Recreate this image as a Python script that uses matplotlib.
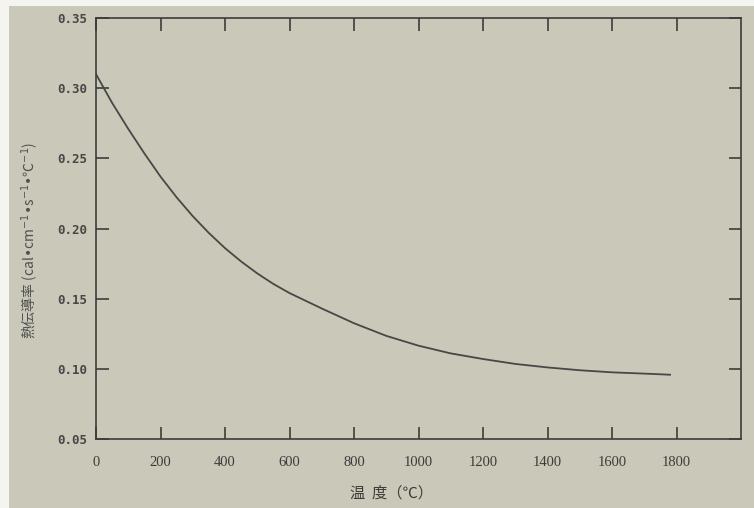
import numpy as np
import matplotlib
matplotlib.use("Agg")
import matplotlib.pyplot as plt
from matplotlib.patches import Rectangle

# 熱伝導率 vs 温度
temp = [0, 50, 100, 150, 200, 250, 300, 350, 400, 450, 500, 550, 600,
        700, 800, 900, 1000, 1100, 1200, 1300, 1400, 1500, 1600, 1700, 1780]
cond = [0.310, 0.2895, 0.271, 0.2535, 0.237, 0.2222, 0.2088, 0.1968, 0.186,
        0.1765, 0.168, 0.1605, 0.154, 0.143, 0.1325, 0.1235, 0.1165, 0.111,
        0.107, 0.1035, 0.101, 0.099, 0.0975, 0.0966, 0.0958]

xticks = [0, 200, 400, 600, 800, 1000, 1200, 1400, 1600, 1800]
yticks = [0.05, 0.10, 0.15, 0.20, 0.25, 0.30, 0.35]

paper = "#c9c8b9"
ink = "#3c3c3a"

fig = plt.figure(figsize=(7.54, 5.08), dpi=100)
fig.patch.set_facecolor("#f4f4f0")
# scanned page area (thin white margin at top/left)
fig.patches.append(Rectangle((9 / 754, 0), 1, 1 - 6 / 508, transform=fig.transFigure,
                             facecolor=paper, edgecolor="none", zorder=-5))

ax = fig.add_axes([96 / 754, 1 - 439 / 508, (741 - 96) / 754, (439 - 18) / 508])
ax.set_facecolor("none")
ax.set_zorder(2)

ax.plot(temp, cond, color="#474745", lw=1.3)

ax.set_xlim(0, 2000)
ax.set_ylim(0.05, 0.35)
ax.set_xticks(xticks)
ax.set_yticks(yticks)
ax.set_xticklabels([str(t) for t in xticks],
                   family="Liberation Serif", fontsize=10.5, color=ink)
ax.set_yticklabels(["%.2f" % v for v in yticks],
                   family="DejaVu Sans Mono", fontsize=9, fontweight="bold", color="#474745")

ax.tick_params(axis="both", direction="in", length=9, width=1.2, color=ink,
               top=True, right=True)
ax.tick_params(axis="x", pad=12)
ax.tick_params(axis="y", pad=6)
for s in ax.spines.values():
    s.set_color(ink)
    s.set_linewidth(1.2)

cjk = ["Noto Sans CJK JP", "DejaVu Sans"]
fig.text(392 / 754, 1 - 493 / 508, "温  度（℃）", family=cjk, fontsize=11,
         color=ink, ha="center", va="center")
fig.text(30 / 754, 1 - 240 / 508,
         "熱伝導率 (cal•cm$^{-1}$•s$^{-1}$•℃$^{-1}$)",
         family=cjk, fontsize=10, color="#505050", rotation=90,
         ha="center", va="center")

fig.savefig("out.png", dpi=100, facecolor=fig.get_facecolor())
